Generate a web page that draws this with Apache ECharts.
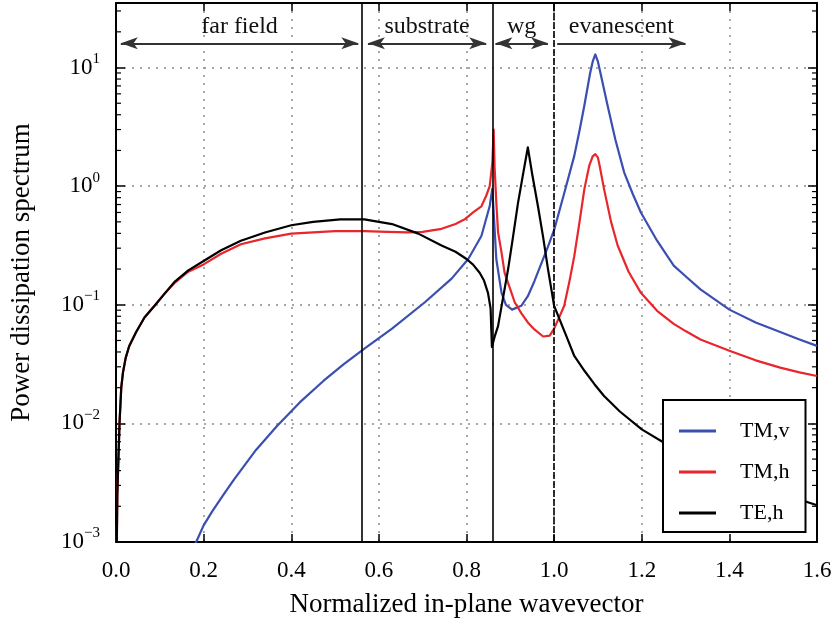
<!DOCTYPE html>
<html>
<head>
<meta charset="utf-8">
<script src="https://cdn.jsdelivr.net/npm/echarts@6/dist/echarts.min.js"></script>
<style>
  html, body { margin: 0; padding: 0; background: #fff; }
  #chart { width: 835px; height: 623px; }
</style>
</head>
<body>
<div id="chart"></div>
<script>
// TM,v (blue)
const tmvX = [0.15, 0.183, 0.2, 0.22, 0.245, 0.27, 0.32, 0.368, 0.42, 0.474, 0.52, 0.567, 0.63, 0.705, 0.766, 0.804, 0.834, 0.853, 0.859,
  0.864, 0.868, 0.88, 0.89, 0.904, 0.925, 0.94, 0.955, 0.97, 0.986, 1.0, 1.023, 1.046, 1.058, 1.069, 1.082, 1.088, 1.094, 1.1,
  1.106, 1.122, 1.14, 1.16, 1.18, 1.198, 1.235, 1.273, 1.3, 1.334, 1.4, 1.46, 1.516, 1.56, 1.6]
const tmvY = [0.00055, 0.001, 0.00138, 0.00182, 0.0025, 0.00339, 0.0060, 0.00955, 0.0151, 0.0229, 0.0316, 0.0427, 0.063, 0.105, 0.166, 0.243, 0.38, 0.68, 0.955,
  0.447, 0.243, 0.126, 0.100, 0.091, 0.098, 0.118, 0.158, 0.219, 0.309, 0.427, 0.87, 1.80, 2.95, 4.79, 8.9, 11.2, 12.9, 11.2,
  8.9, 4.79, 2.45, 1.30, 0.85, 0.60, 0.347, 0.214, 0.174, 0.135, 0.091, 0.071, 0.059, 0.051, 0.045]

// TM,h (red)
const tmhX = [0.001, 0.003, 0.008, 0.012, 0.016, 0.022, 0.03, 0.046, 0.065, 0.088, 0.11, 0.133, 0.165, 0.2, 0.24, 0.285, 0.34, 0.4, 0.5, 0.567,
  0.62, 0.667, 0.7, 0.743, 0.775, 0.796, 0.815, 0.834, 0.845, 0.853, 0.859, 0.862, 0.864, 0.868, 0.872, 0.88, 0.887, 0.9, 0.91, 0.925,
  0.94, 0.955, 0.975, 0.99, 1.0, 1.012, 1.023, 1.035, 1.046, 1.058, 1.069, 1.08, 1.088, 1.094, 1.1, 1.104, 1.114, 1.13, 1.145, 1.17,
  1.198, 1.235, 1.273, 1.3, 1.334, 1.4, 1.46, 1.516, 1.56, 1.6]
const tmhY = [0.0005, 0.0025, 0.010, 0.020, 0.027, 0.0355, 0.0447, 0.059, 0.078, 0.098, 0.123, 0.152, 0.19, 0.219, 0.269, 0.324, 0.363, 0.398, 0.417, 0.417,
  0.412, 0.407, 0.412, 0.437, 0.479, 0.525, 0.60, 0.676, 0.83, 1.0, 1.58, 3.0, 1.48, 0.733, 0.41, 0.275, 0.186, 0.135, 0.105, 0.085,
  0.071, 0.062, 0.054, 0.055, 0.063, 0.079, 0.098, 0.158, 0.257, 0.50, 0.944, 1.48, 1.78, 1.86, 1.74, 1.48, 0.944, 0.50, 0.316, 0.19,
  0.126, 0.089, 0.069, 0.060, 0.051, 0.041, 0.034, 0.0295, 0.0269, 0.0251]

// TE,h (black)
const tehX = [0.001, 0.003, 0.008, 0.012, 0.016, 0.022, 0.03, 0.046, 0.065, 0.088, 0.11, 0.133, 0.165, 0.2, 0.24, 0.285, 0.34, 0.4, 0.45, 0.512, 0.567,
  0.63, 0.69, 0.743, 0.775, 0.8, 0.815, 0.83, 0.84, 0.849, 0.855, 0.858, 0.865, 0.872, 0.883, 0.895, 0.906, 0.9175, 0.93, 0.94, 0.95, 0.963, 0.975,
  0.986, 1.0, 1.012, 1.03, 1.046, 1.07, 1.092, 1.114, 1.15, 1.2, 1.25, 1.3, 1.4, 1.5, 1.6]
const tehY = [0.0005, 0.0025, 0.010, 0.020, 0.027, 0.0355, 0.0447, 0.059, 0.078, 0.098, 0.123, 0.155, 0.195, 0.234, 0.288, 0.347, 0.407, 0.468, 0.50, 0.525, 0.525,
  0.479, 0.398, 0.316, 0.28, 0.243, 0.218, 0.186, 0.16, 0.126, 0.093, 0.044, 0.055, 0.066, 0.112, 0.20, 0.37, 0.72, 1.32, 2.12, 1.26, 0.68, 0.37,
  0.20, 0.098, 0.076, 0.052, 0.037, 0.0275, 0.0214, 0.017, 0.0126, 0.0089, 0.0069, 0.0055, 0.0038, 0.0027, 0.00204]

const seriesNames = ['TM,v', 'TM,h', 'TE,h']
const seriesColors = ['#3a4fb0', '#e8262b', '#000000']

// region boundaries and labels
const boundaryX = [0.563, 0.857, 1.0]
const regionNames = ['far field', 'substrate', 'wg', 'evanescent']
const regionStart = [0.011, 0.575, 0.866, 1.007]
const regionEnd = [0.553, 0.845, 0.986, 1.3]
const regionArrowY = 16.0

const yTickPowers = [-3, -2, -1, 0, 1]

const serif = 'Liberation Serif'
const zip = (xs, ys) => xs.map((x, i) => [x, ys[i]])

// minor log ticks (2..9 x 10^n)
const minorTicks = []
yTickPowers.forEach(p => {
  for (let k = 2; k <= 9; k++) {
    const v = k * Math.pow(10, p)
    if (v < 35) minorTicks.push([0, v])
  }
})

const chart = echarts.init(document.getElementById('chart'))

const gridLine = { show: true, lineStyle: { color: '#8c8c8c', width: 1.5, type: [2, 6] } }
const frame = { show: true, onZero: false, lineStyle: { color: '#000', width: 2 } }

const yLabel = (value) => {
  const p = Math.round(Math.log10(value))
  if (Math.abs(Math.log10(value) - p) > 1e-6) return ''
  const s = p < 0 ? '\u2212' + Math.abs(p) : String(p)
  return '{b|10}{s|' + s + '}'
}

const curve = (i, xs, ys) => ({
  name: seriesNames[i], type: 'line', data: zip(xs, ys),
  showSymbol: false, clip: true,
  lineStyle: { color: seriesColors[i], width: 2.2, join: 'round' }, itemStyle: { color: seriesColors[i] }
})

const option = {
  animation: false,
  backgroundColor: '#fff',
  grid: { left: 113, right: 18, top: 3, bottom: 80 },
  legend: {
    data: seriesNames,
    orient: 'vertical',
    left: 663,
    top: 400,
    icon: 'rect',
    itemWidth: 37,
    itemHeight: 3,
    itemGap: 19,
    padding: [20, 16, 8, 16],
    borderColor: '#000',
    borderWidth: 2,
    borderRadius: 0,
    backgroundColor: '#fff',
    textStyle: { fontFamily: serif, fontSize: 22, color: '#000', lineHeight: 22, padding: [0, 0, 0, 19] }
  },
  xAxis: [
    {
      type: 'value', min: 0, max: 1.6, interval: 0.2,
      name: 'Normalized in-plane wavevector',
      nameLocation: 'middle', nameGap: 49,
      nameTextStyle: { fontFamily: serif, fontSize: 27, color: '#000' },
      axisLine: frame,
      axisTick: { show: true, inside: true, length: 8, lineStyle: { color: '#000', width: 1.5 } },
      axisLabel: { margin: 17, fontFamily: serif, fontSize: 23, color: '#000', formatter: v => v.toFixed(1) },
      splitLine: gridLine
    },
    {
      type: 'value', min: 0, max: 1.6, interval: 0.2, position: 'top',
      axisLine: frame,
      axisTick: { show: true, inside: true, length: 8, lineStyle: { color: '#000', width: 1.5 } },
      axisLabel: { show: false },
      splitLine: { show: false }
    }
  ],
  yAxis: [
    {
      type: 'log', logBase: 10, min: 0.001, max: 35,
      name: 'Power dissipation spectrum',
      nameLocation: 'middle', nameGap: 81,
      nameTextStyle: { fontFamily: serif, fontSize: 27, color: '#000' },
      axisLine: frame,
      axisTick: { show: true, inside: true, length: 9, lineStyle: { color: '#000', width: 1.5 } },
      axisLabel: {
        margin: 16, formatter: yLabel, showMaxLabel: false,
        rich: {
          b: { fontFamily: serif, fontSize: 23, color: '#000', lineHeight: 32 },
          s: { fontFamily: serif, fontSize: 15, color: '#000', lineHeight: 15, verticalAlign: 'top' }
        }
      },
      splitLine: gridLine
    },
    {
      type: 'log', logBase: 10, min: 0.001, max: 35, position: 'right',
      axisLine: frame,
      axisTick: { show: true, inside: true, length: 9, lineStyle: { color: '#000', width: 1.5 } },
      axisLabel: { show: false },
      splitLine: { show: false }
    }
  ],
  series: [
    {
      type: 'custom',
      silent: true,
      clip: false,
      z: 10,
      data: minorTicks,
      renderItem: (params, api) => {
        const v = api.value(1)
        const l = api.coord([0, v])
        const r = api.coord([1.6, v])
        const st = { stroke: '#000', lineWidth: 1.2 }
        return {
          type: 'group',
          children: [
            { type: 'line', shape: { x1: l[0], y1: l[1], x2: l[0] + 5, y2: l[1] }, style: st },
            { type: 'line', shape: { x1: r[0] - 5, y1: r[1], x2: r[0], y2: r[1] }, style: st }
          ]
        }
      }
    },
    {
      type: 'line',
      data: [],
      markLine: {
        silent: true,
        symbol: 'none',
        label: { show: false },
        data: boundaryX.map((x, i) => ({
          xAxis: x,
          lineStyle: { color: '#000', width: 1.6, type: i === 2 ? [7, 2] : 'solid' }
        }))
      }
    },
    {
      type: 'line',
      data: [],
      markLine: {
        silent: true,
        symbolSize: [9, 17],
        lineStyle: { color: '#333', width: 1.8, type: 'solid' },
        label: {
          show: true, position: 'middle', distance: 5,
          fontFamily: serif, fontSize: 24, color: '#111',
          formatter: p => p.name
        },
        data: regionNames.map((name, i) => [
          { name: name, coord: [regionStart[i], regionArrowY], symbol: i === 3 ? 'none' : 'arrow' },
          { coord: [regionEnd[i], regionArrowY], symbol: 'arrow' }
        ])
      }
    },
    curve(0, tmvX, tmvY),
    curve(1, tmhX, tmhY),
    curve(2, tehX, tehY)
  ]
}

chart.setOption(option)
</script>
</body>
</html>
